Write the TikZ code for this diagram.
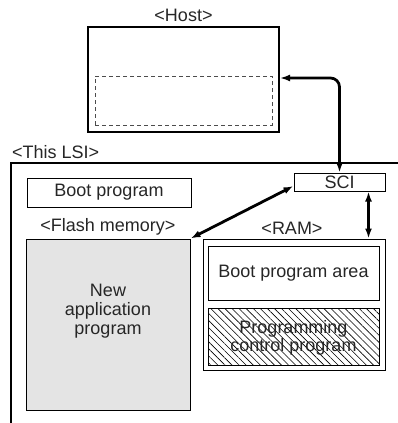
\documentclass[tikz,border=0pt]{standalone}
\usepackage{fontspec}
\setmainfont{Liberation Sans}
\usetikzlibrary{arrows.meta,patterns.meta}
\definecolor{flashgray}{HTML}{E4E4E4}
\tikzset{
  box/.style={draw, line width=1pt, inner sep=0pt, anchor=center},
  lbl/.style={inner sep=0pt, font=\fontsize{18}{19}\selectfont, text=black!85},
  dbl/.style={line width=2.8pt, {Latex[length=10pt,width=7pt]}-{Latex[length=10pt,width=7pt]}},
}
\begin{document}
\begin{tikzpicture}[x=1pt,y=-1pt]
\useasboundingbox (0,0) rectangle (397,423);
% Host
\node[lbl] (hostlbl) at (183.5,15) {<Host>};
\node[box, line width=2.6pt, minimum width=191pt, minimum height=105pt] (host) at (183.5,79.5) {};
\node[box, dashed, dash pattern=on 4pt off 3pt, draw=black!70, minimum width=177pt, minimum height=49pt] (hdash) at (183.5,100.5) {};
% LSI frame
\node[lbl, anchor=west] (lsilbl) at (12,152) {<This LSI>};
\draw[line width=2pt] (11,425) -- (11,163) -- (399,163);
% SCI
\node[box, minimum width=91pt, minimum height=18pt, lbl, inner sep=0pt] (sci) at (339.5,182) {SCI};
% Boot program
\node[box, minimum width=164pt, minimum height=29pt, lbl] (boot) at (109,192.5) {Boot program};
% Flash
\node[lbl] (flashlbl) at (108,227) {<Flash memory>};
\node[box, fill=flashgray, minimum width=164pt, minimum height=171pt] (flash) at (108,324.5) {};
\node[lbl, align=center, font=\fontsize{18}{19}\selectfont] (flashtxt) at (108,311) {New\\application\\program};
% RAM
\node[lbl] (ramlbl) at (292,228) {<RAM>};
\node[box, minimum width=182pt, minimum height=131pt] (ram) at (294,304.5) {};
\node[box, minimum width=171pt, minimum height=54pt, lbl] (bootarea) at (293.5,273) {Boot program area};
\node[box, pattern={Lines[angle=-45,distance=5pt,line width=0.6pt]}, minimum width=171pt, minimum height=57pt] (prog) at (293.5,336.5) {};
\node[lbl, align=center, font=\fontsize{18}{18}\selectfont] (progtxt) at (293.5,338) {Programming\\control program};
% connectors
\coordinate (hostport) at (280,78);
\draw[dbl, rounded corners=9pt] (hostport) -| (sci.north);
\draw[dbl] ([yshift=-4pt]sci.west) -- (flash.north east);
\draw[dbl] ([xshift=-17pt]sci.south east) -- ([xshift=-17pt]ram.north east);
\end{tikzpicture}
\end{document}
